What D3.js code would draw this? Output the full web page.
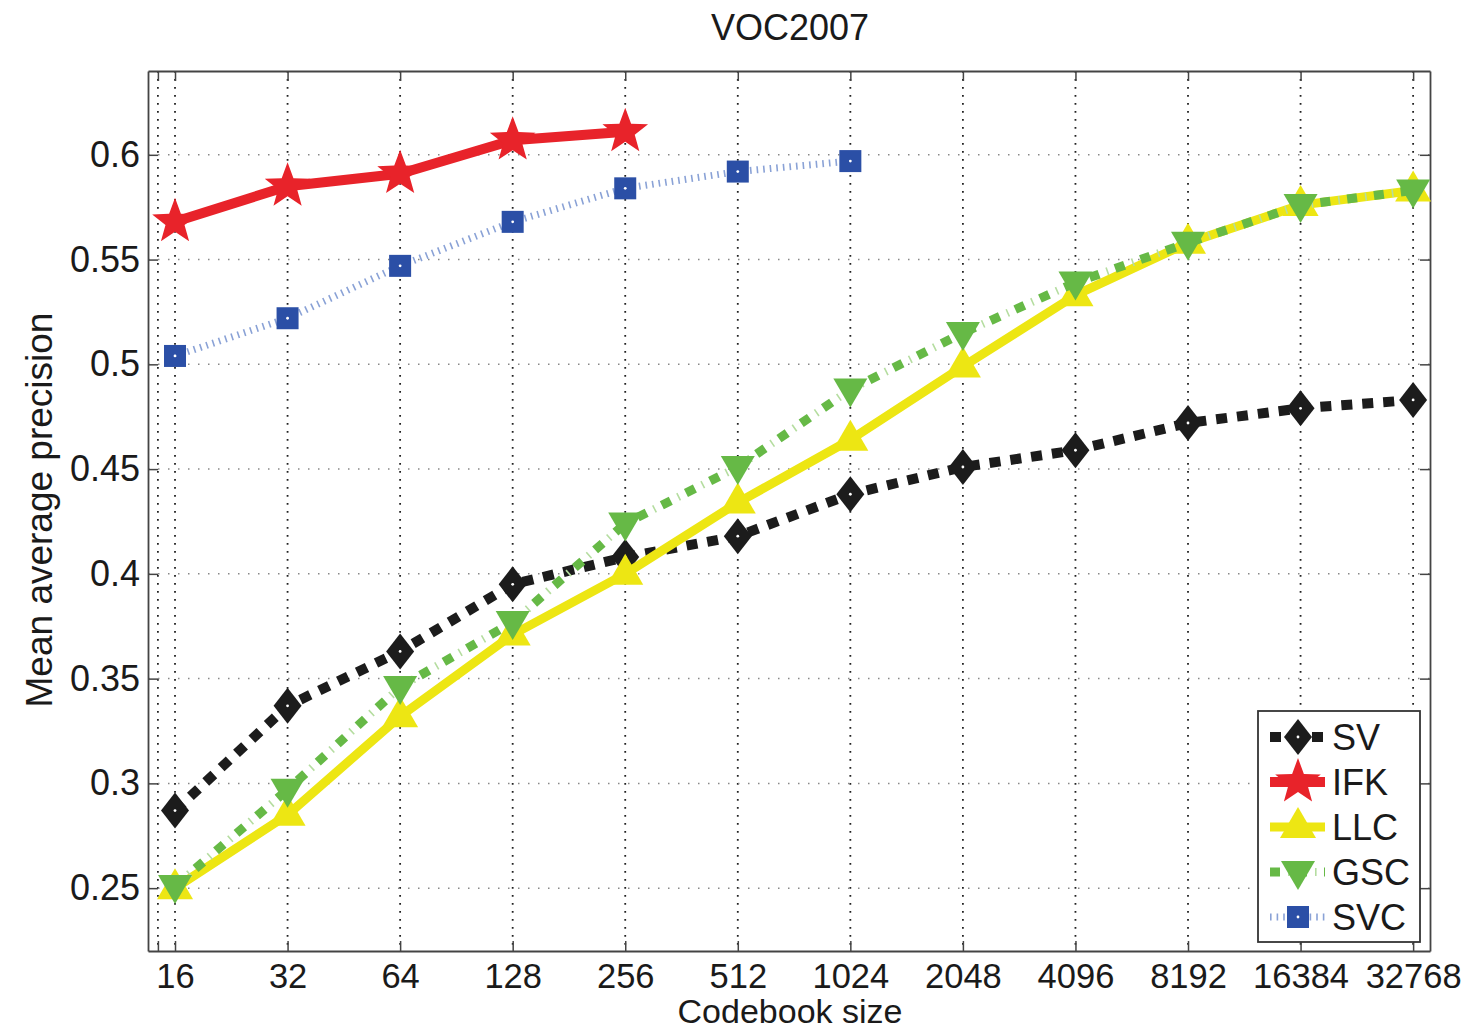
<!DOCTYPE html>
<meta charset="utf-8">
<style>
body { margin: 0; background: #fff; }
text { font-family: "Liberation Sans", Arial, sans-serif; fill: #1a1a1a; }
</style>
<body>
<script src="https://d3js.org/d3.v7.min.js"></script>
<script>

// ---- data ----
var codebook = [16, 32, 64, 128, 256, 512, 1024, 2048, 4096, 8192, 16384, 32768];
var sv  = [0.287, 0.337, 0.363, 0.395, 0.408, 0.418, 0.438, 0.451, 0.459, 0.472, 0.479, 0.483];
var ifk = [0.568, 0.585, 0.591, 0.607, 0.611];
var llc = [0.250, 0.285, 0.332, 0.371, 0.400, 0.434, 0.464, 0.499, 0.533, 0.558, 0.576, 0.583];
var gsc = [0.251, 0.297, 0.346, 0.377, 0.424, 0.451, 0.488, 0.515, 0.539, 0.558, 0.576, 0.583];
var svc = [0.504, 0.522, 0.547, 0.568, 0.584, 0.592, 0.597];
var yTicks = [0.25, 0.3, 0.35, 0.4, 0.45, 0.5, 0.55, 0.6];
var yTickLabels = ["0.25", "0.3", "0.35", "0.4", "0.45", "0.5", "0.55", "0.6"];
var extraXTick = 14.4;   // unlabeled tick/grid just left of 16
var seriesNames = ["SV", "IFK", "LLC", "GSC", "SVC"];

var W = 1472, H = 1031;
// plot box (named to avoid clashing with window.top)
var pLeft = 148, pRight = 1430, pTop = 71, pBottom = 951;

var svg = d3.select("body").append("svg").attr("width", W).attr("height", H);

var x = d3.scaleLog().base(2).domain([Math.pow(2, 3.76), Math.pow(2, 15.15)]).range([pLeft, pRight]);
var y = d3.scaleLinear().domain([0.22, 0.64]).range([pBottom, pTop]);

// grid
var grid = svg.append("g");
grid.selectAll(".vg").data([extraXTick].concat(codebook)).enter().append("line")
    .attr("x1", d => x(d)).attr("x2", d => x(d)).attr("y1", pTop).attr("y2", pBottom)
    .attr("stroke", "#222").attr("stroke-width", 1.8).attr("stroke-dasharray", "1.8,6.2");
grid.selectAll(".hg").data(yTicks).enter().append("line")
    .attr("x1", pLeft).attr("x2", pRight).attr("y1", d => y(d)).attr("y2", d => y(d))
    .attr("stroke", "#888").attr("stroke-width", 1.5).attr("stroke-dasharray", "1.5,8.5");

// axes (MATLAB style inward ticks, box)
var axBottom = d3.axisBottom(x).tickValues([extraXTick].concat(codebook))
    .tickFormat(d => codebook.indexOf(d) >= 0 ? d : "").tickSizeInner(-10).tickSizeOuter(0).tickPadding(13);
var axTop = d3.axisTop(x).tickValues([extraXTick].concat(codebook)).tickFormat("").tickSizeInner(-10).tickSizeOuter(0);
var axLeft = d3.axisLeft(y).tickValues(yTicks).tickFormat((d, i) => yTickLabels[i]).tickSizeInner(-10).tickSizeOuter(0).tickPadding(8);
var axRight = d3.axisRight(y).tickValues(yTicks).tickFormat("").tickSizeInner(-10).tickSizeOuter(0);

function styleAxis(g, size) {
  g.select(".domain").attr("stroke", "#444").attr("stroke-width", 1.8);
  g.selectAll(".tick line").attr("stroke", "#444").attr("stroke-width", 1.5);
  g.selectAll(".tick text").attr("font-size", size || 36).attr("fill", "#1a1a1a")
    .attr("font-family", "Liberation Sans, Arial, sans-serif");
}
svg.append("g").attr("transform", "translate(0," + pBottom + ")").call(axBottom).call(styleAxis, 34.5);
svg.append("g").attr("transform", "translate(0," + pTop + ")").call(axTop).call(styleAxis);
svg.append("g").attr("transform", "translate(" + pLeft + ",0)").call(axLeft).call(styleAxis, 36);
svg.append("g").attr("transform", "translate(" + pRight + ",0)").call(axRight).call(styleAxis);

// titles
svg.append("text").attr("x", 790).attr("y", 40).attr("text-anchor", "middle")
  .attr("font-size", 36).text("VOC2007");
svg.append("text").attr("x", 790).attr("y", 1023).attr("text-anchor", "middle")
  .attr("font-size", 34).text("Codebook size");
svg.append("text").attr("transform", "translate(52,510) rotate(-90)").attr("text-anchor", "middle")
  .attr("font-size", 37).text("Mean average precision");

// ---- series styles ----
var black = "#1c1c1c", red = "#e8232a", yellow = "#ede613", green = "#66b946", blue = "#2b4fa6";

function pts(vals) { return vals.map((v, i) => [codebook[i], v]); }
var line = d3.line().x(d => x(d[0])).y(d => y(d[1]));

function starPath(R, r) {
  var p = [];
  for (var k = 0; k < 10; k++) {
    var rad = k % 2 === 0 ? R : r;
    var a = -Math.PI / 2 + k * Math.PI / 5;
    p.push([rad * Math.cos(a), rad * Math.sin(a)]);
  }
  return "M" + p.map(q => q.join(",")).join("L") + "Z";
}
// marker drawers (centered at 0,0)
var markers = {
  SV: function(g) {
    g.append("path").attr("d", "M0,-18L14,0L0,18L-14,0Z").attr("fill", black);
    g.append("circle").attr("r", 1.4).attr("fill", "#fff");
  },
  IFK: function(g) {
    g.append("path").attr("d", starPath(24, 10)).attr("fill", red);
  },
  LLC: function(g) {
    g.append("path").attr("d", "M0,-20L18,11L-18,11Z").attr("fill", yellow);
  },
  GSC: function(g) {
    g.append("path").attr("d", "M0,18L17,-11L-17,-11Z").attr("fill", green);
  },
  SVC: function(g) {
    g.append("rect").attr("x", -11).attr("y", -11).attr("width", 22).attr("height", 22).attr("fill", blue);
    g.append("circle").attr("r", 1.4).attr("fill", "#fff");
  }
};

function drawLine(g, name, d) {
  if (name === "SV") {
    g.append("path").attr("d", d).attr("fill", "none").attr("stroke", black)
      .attr("stroke-width", 10).attr("stroke-dasharray", "11,10");
  } else if (name === "IFK") {
    g.append("path").attr("d", d).attr("fill", "none").attr("stroke", red)
      .attr("stroke-width", 10).attr("stroke-linejoin", "round");
  } else if (name === "LLC") {
    g.append("path").attr("d", d).attr("fill", "none").attr("stroke", yellow)
      .attr("stroke-width", 9).attr("stroke-linejoin", "round");
  } else if (name === "GSC") {
    g.append("path").attr("d", d).attr("fill", "none").attr("stroke", green)
      .attr("stroke-width", 9).attr("stroke-dasharray", "10,17");
    g.append("path").attr("d", d).attr("fill", "none").attr("stroke", "#b5dda0")
      .attr("stroke-width", 8).attr("stroke-dasharray", "1.6,25.4").attr("stroke-dashoffset", 9);
  } else if (name === "SVC") {
    g.append("path").attr("d", d).attr("fill", "none").attr("stroke", "#8aa2d6")
      .attr("stroke-width", 7).attr("stroke-dasharray", "1.6,5");
  }
}

var seriesData = { SV: sv, IFK: ifk, LLC: llc, GSC: gsc, SVC: svc };

seriesNames.forEach(function(name) {
  var g = svg.append("g");
  var p = pts(seriesData[name]);
  drawLine(g, name, line(p));
  p.forEach(function(q) {
    var m = g.append("g").attr("transform", "translate(" + x(q[0]) + "," + y(q[1]) + ")");
    markers[name](m);
  });
});

// ---- legend ----
var lg = svg.append("g");
lg.append("rect").attr("x", 1258).attr("y", 711).attr("width", 162).attr("height", 231)
  .attr("fill", "#fff").attr("stroke", "#333").attr("stroke-width", 1.8);
seriesNames.forEach(function(name, i) {
  var cy = 737 + i * 45;
  var row = lg.append("g");
  drawLine(row, name, "M1270," + cy + "L1325," + cy);
  var m = row.append("g").attr("transform", "translate(1298," + cy + ")");
  markers[name](m);
  row.append("text").attr("x", 1332).attr("y", cy + 13).attr("font-size", 36).text(name);
});

</script>
</body>
